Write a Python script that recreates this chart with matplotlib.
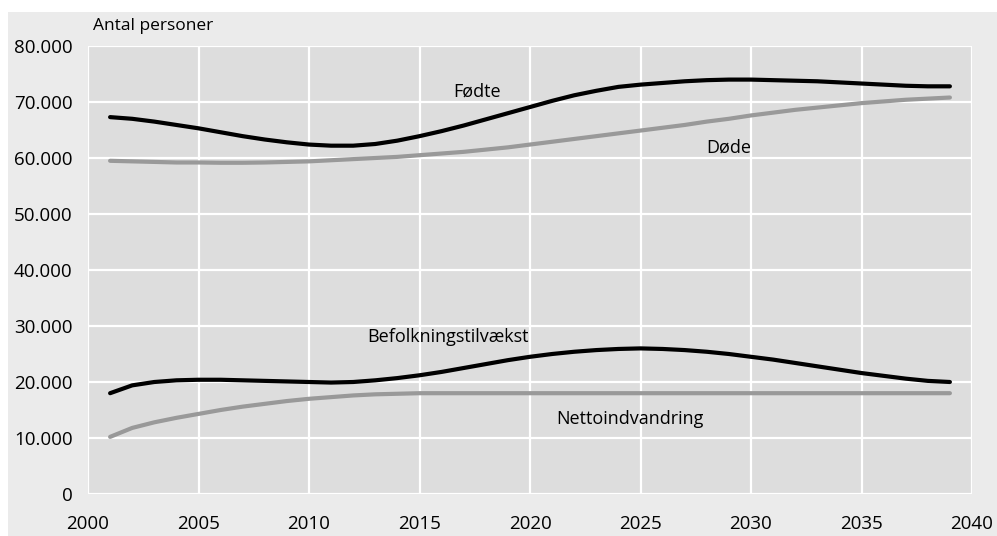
import matplotlib.pyplot as plt
from matplotlib.patches import Rectangle

plt.rcParams['font.family'] = ['Open Sans', 'DejaVu Sans']

years = list(range(2001, 2040))
foedte = [67300, 67000, 66500, 65900, 65300, 64600, 63900, 63300, 62800, 62400,
          62200, 62200, 62500, 63100, 63900, 64800, 65800, 66900, 68000, 69100,
          70200, 71200, 72000, 72700, 73100, 73400, 73700, 73900, 74000, 74000,
          73900, 73800, 73700, 73500, 73300, 73100, 72900, 72800, 72800]
doede = [59500, 59400, 59300, 59200, 59200, 59150, 59150, 59200, 59300, 59400,
         59600, 59800, 60000, 60200, 60500, 60800, 61100, 61500, 61900, 62400,
         62900, 63400, 63900, 64400, 64900, 65400, 65900, 66500, 67000, 67600,
         68100, 68600, 69000, 69400, 69800, 70100, 70400, 70600, 70800]
tilvaekst = [18000, 19400, 20000, 20300, 20400, 20400, 20300, 20200, 20100, 20000,
             19900, 20000, 20300, 20700, 21200, 21800, 22500, 23200, 23900, 24500,
             25000, 25400, 25700, 25900, 26000, 25900, 25700, 25400, 25000, 24500,
             24000, 23400, 22800, 22200, 21600, 21100, 20600, 20200, 20000]
netto = [10200, 11800, 12800, 13600, 14300, 15000, 15600, 16100, 16600, 17000,
         17300, 17600, 17800, 17900, 18000, 18000, 18000, 18000, 18000, 18000,
         18000, 18000, 18000, 18000, 18000, 18000, 18000, 18000, 18000, 18000,
         18000, 18000, 18000, 18000, 18000, 18000, 18000, 18000, 18000]

fig = plt.figure(figsize=(9.97, 5.36), dpi=100)
fig.patch.set_facecolor('white')
# grå baggrund for hele figuren
bg = Rectangle((8 / 997, 0), 1, (536 - 12) / 536, transform=fig.transFigure,
               facecolor='#ebebeb', edgecolor='none', zorder=-10)
fig.add_artist(bg)

ax = fig.add_axes([88 / 997, 42 / 536, 884 / 997, 448 / 536])
ax.set_facecolor('#dddddd')

ax.plot(years, foedte, color='black', lw=3, solid_capstyle='round', zorder=3)
ax.plot(years, doede, color='#999999', lw=3, solid_capstyle='round', zorder=2)
ax.plot(years, tilvaekst, color='black', lw=3, solid_capstyle='round', zorder=3)
ax.plot(years, netto, color='#999999', lw=3, solid_capstyle='round', zorder=2)

ax.text(2017.6, 71800, 'Fødte', ha='center', va='center', fontsize=13)
ax.text(2029.0, 61800, 'Døde', ha='center', va='center', fontsize=13)
ax.text(2016.3, 28000, 'Befolkningstilvækst', ha='center', va='center', fontsize=13)
ax.text(2024.5, 13400, 'Nettoindvandring', ha='center', va='center', fontsize=13)

ax.set_xlim(2000, 2040)
ax.set_ylim(0, 80000)
ax.set_xticks(range(2000, 2041, 5))
ax.set_yticks(range(0, 80001, 10000))
ax.set_yticklabels([f'{v:,}'.replace(',', '.') for v in range(0, 80001, 10000)])
ax.tick_params(length=0, labelsize=13.5, pad=11)
ax.tick_params(axis='x', pad=15)
ax.grid(True, color='white', lw=1.6)
ax.set_axisbelow(True)
for s in ax.spines.values():
    s.set_visible(False)

ax.text(0.006, 1.045, 'Antal personer', transform=ax.transAxes, fontsize=12.5,
        ha='left', va='center')

fig.savefig('out.png', dpi=100)
